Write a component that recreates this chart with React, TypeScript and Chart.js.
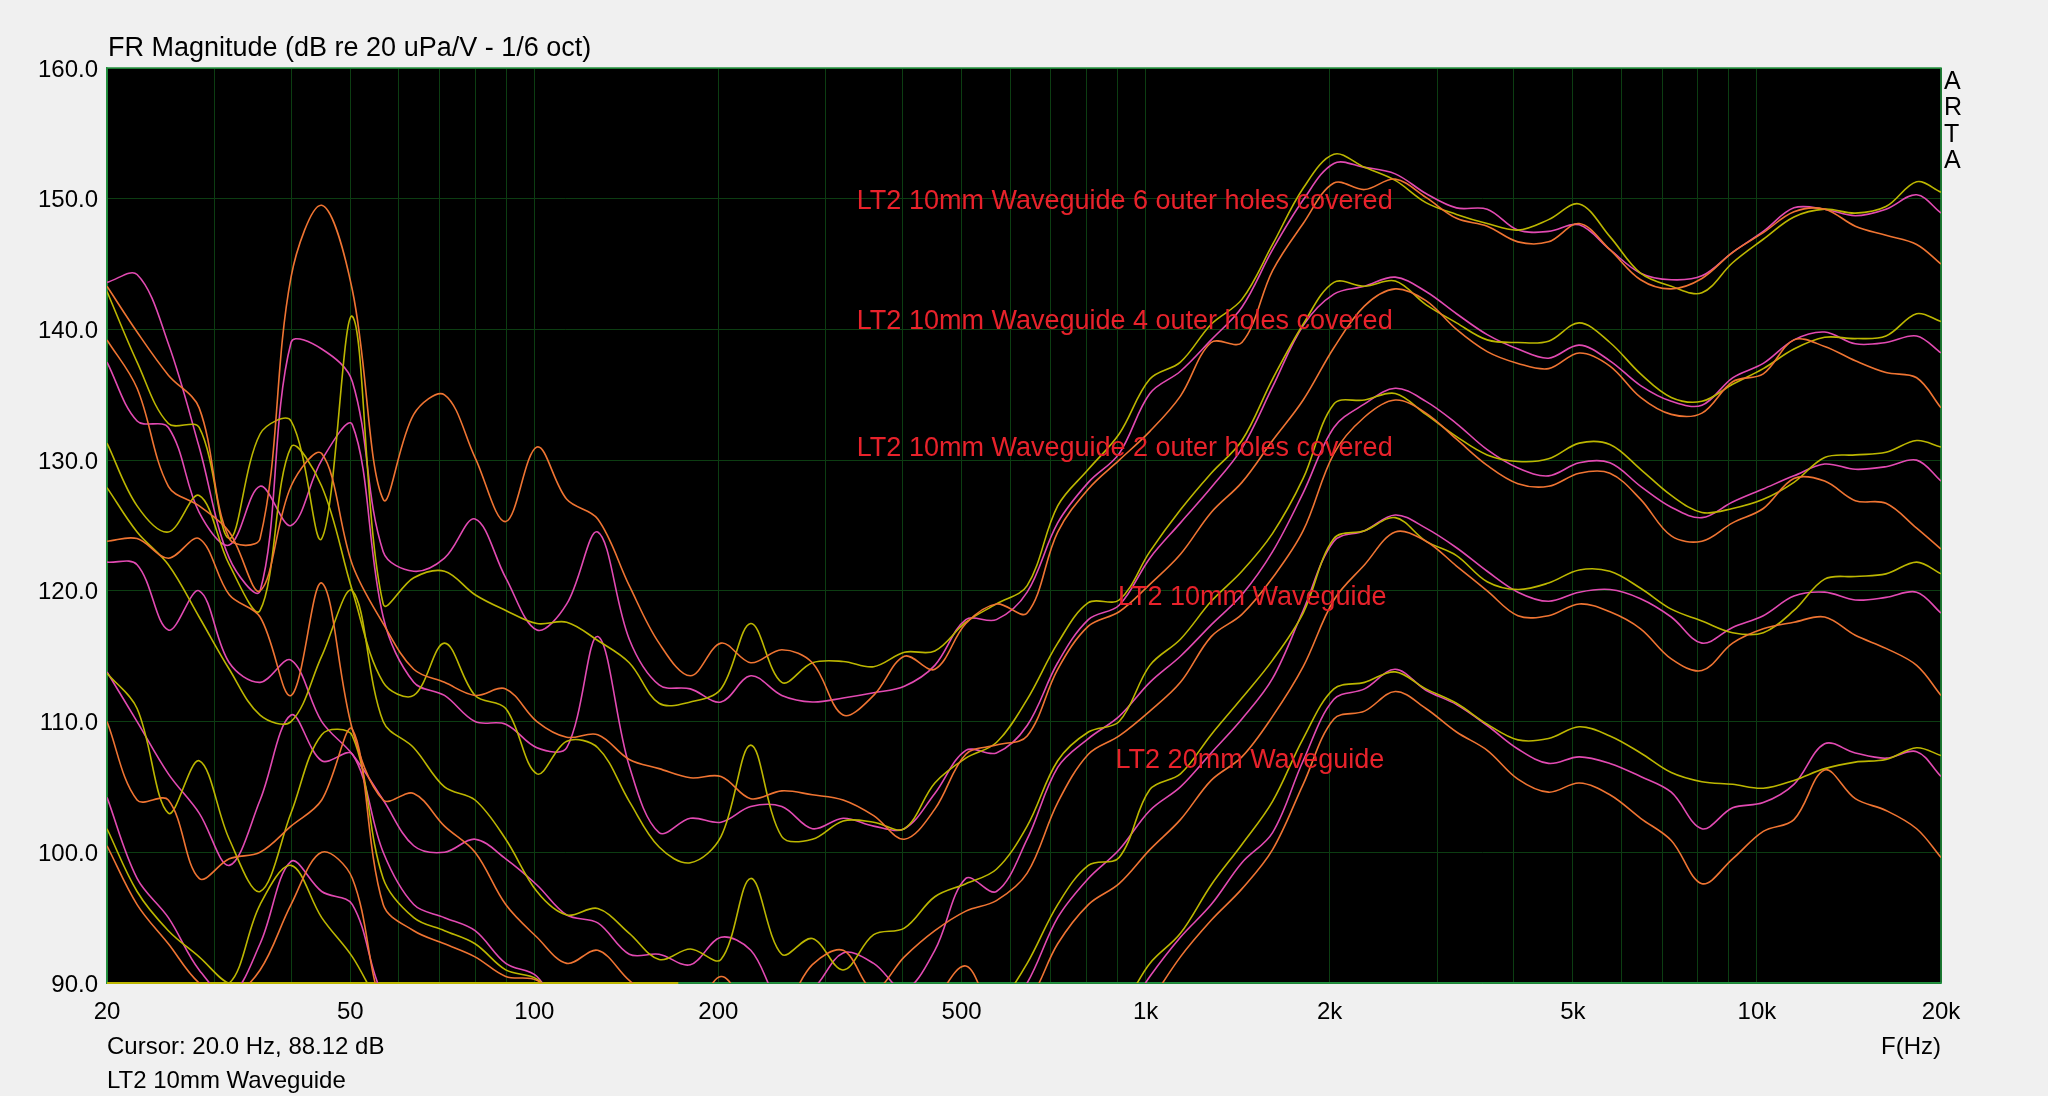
import React, { useEffect, useRef } from "react";
import { Chart, registerables } from "chart.js";

Chart.register(...registerables);

// Frequency points (Hz), roughly 1/6 octave
const freqs = [20, 22.4, 25.2, 28.3, 31.7, 35.6, 40, 44.9, 50.4, 56.6, 63.5, 71.3, 80, 89.8, 101, 113, 127, 143, 160, 180, 202, 226, 254, 285, 320, 359, 403, 452, 508, 570, 640, 718, 806, 905, 1016, 1140, 1280, 1437, 1613, 1810, 2032, 2281, 2560, 2874, 3225, 3620, 4064, 4561, 5120, 5747, 6451, 7241, 8127, 9123, 10240, 11494, 12902, 14482, 16256, 18247, 20000];

// "6 outer holes covered"
const g1Yellow = [142.9, 137.5, 132.8, 132.5, 124, 132, 133, 124, 141, 119, 121, 121.5, 119.7, 118.5, 117.5, 117.6, 116.2, 114.5, 111.4, 111.5, 112.5, 117.5, 113, 114.5, 114.6, 114.2, 115.3, 115.4, 117.6, 119, 120.4, 126.5, 129.3, 132, 136.2, 137.5, 140.4, 142.3, 146.5, 150.8, 153.4, 152.4, 151.4, 149.7, 148.8, 148.1, 147.6, 148.4, 149.6, 147.1, 144.3, 143.3, 142.8, 145.1, 146.9, 148.6, 149.2, 148.9, 149.4, 151.3, 150.5];
const g1Pink = [143.6, 144.2, 138.9, 131, 122.5, 120, 139, 138.5, 136, 123, 121.5, 122.5, 125.5, 121, 117, 119, 124.5, 116.3, 112.8, 112.5, 111.5, 113.5, 112, 111.5, 111.8, 112.2, 112.7, 114.3, 117.8, 117.8, 119.9, 125.2, 128.3, 130.5, 135.1, 136.8, 139.2, 141.7, 146.1, 149.9, 152.7, 152.4, 151.9, 150.4, 149.3, 149.2, 147.6, 147.5, 148, 146.1, 144.3, 143.8, 144.1, 145.9, 147.5, 149.3, 149.2, 148.7, 149.2, 150.3, 148.9];
const g1Orange = [143.3, 139.8, 136.5, 134, 124, 124, 144, 149.5, 143, 127, 133.5, 135, 130.2, 125.3, 131, 127, 125.5, 120.4, 116, 113.5, 116, 114.5, 115.5, 114.5, 110.5, 112, 115, 114, 117.5, 119, 118.3, 124.5, 127.8, 130, 132.2, 134.9, 139, 139, 144.5, 148.1, 151.2, 150.7, 151.5, 150.1, 148.5, 147.9, 146.7, 146.7, 148.1, 146.1, 143.8, 143.1, 143.9, 145.9, 147.4, 149, 149.2, 147.9, 147.2, 146.5, 145];

// "4 outer holes covered"
const g2Yellow = [131.3, 126.5, 124.5, 127.3, 122, 118.5, 131, 128, 120, 113, 112, 116, 112, 111, 106, 108.5, 108, 103.9, 100.4, 99.2, 101.2, 108.2, 101.2, 101, 102.4, 102.3, 101.8, 105.3, 107.2, 108.4, 111.7, 116, 119.1, 119.3, 123, 126.2, 129, 131.5, 136.2, 140.4, 143.6, 143.3, 143.7, 141.9, 140.5, 139.2, 139, 139.1, 140.5, 139, 136.6, 134.8, 134.5, 135.8, 137, 138.5, 139.4, 139.3, 139.5, 141.2, 140.6];
const g2Pink = [137.5, 133, 132.5, 126, 123.5, 128, 125, 130, 132.7, 118, 113, 112, 110, 109.8, 108, 108, 116.5, 106.6, 101.5, 102.6, 102.3, 103.5, 103.5, 101.8, 102.6, 102, 101.8, 104.5, 107.8, 107.6, 109.7, 114.5, 117.8, 118.9, 122.5, 125.2, 127.9, 130.9, 135.6, 140.3, 142.7, 143.3, 144, 142.9, 141.2, 139.6, 138.5, 137.8, 138.8, 137.6, 135.7, 134.5, 134.2, 136.3, 137.4, 139.2, 139.8, 138.9, 139, 139.5, 138.2];
const g2Orange = [139.2, 135.5, 128, 126.5, 124.5, 120, 128, 130.5, 122, 117.5, 114, 113, 112, 112.5, 110, 108.8, 109, 107.1, 106.4, 105.7, 105.8, 104.1, 104.7, 104.4, 104, 102.8, 101, 103.3, 107.5, 108.2, 108.9, 114, 117.3, 118.4, 120.5, 122.8, 126, 128.3, 131.5, 134.6, 138.6, 141.8, 143.1, 142.2, 140, 138.3, 137.4, 137, 138.2, 137.2, 134.8, 133.5, 133.6, 136, 136.6, 139.2, 138.7, 137.6, 136.7, 136.3, 134];

// "2 outer holes covered"
const g3Yellow = [127.9, 124.5, 122, 118, 114, 110.5, 110, 115, 120, 110, 108, 105, 104, 101, 97, 95.2, 95.7, 93.8, 91.8, 92.6, 91.8, 98, 92.2, 93.4, 91, 93.7, 94.2, 96.6, 97.6, 98.7, 102, 107, 109.2, 110, 114.3, 116.3, 119.2, 121.5, 124.4, 128.6, 134.3, 134.6, 135.1, 133.5, 131.8, 130.4, 129.9, 130.1, 131.3, 131.2, 129.3, 127.3, 126, 126.3, 127, 128.3, 130.2, 130.4, 130.6, 131.5, 131];
const g3Pink = [122.2, 122, 117, 120, 114.5, 113, 114.7, 110, 107.5, 104, 100.5, 100, 101, 99.5, 97.5, 95.2, 94.6, 92.2, 92.2, 91.4, 93.5, 92.5, 88.5, 89.5, 92.3, 91.5, 89.5, 92.5, 98, 97, 101, 106.5, 108.7, 110.4, 113, 115, 117.4, 119.7, 123, 127.5, 132.5, 134.3, 135.5, 134.5, 132.8, 130.8, 129.4, 128.8, 129.8, 129.8, 128, 126.4, 125.6, 126.8, 127.8, 128.8, 129.7, 129.3, 129.5, 130, 128.4];
const g3Orange = [123.8, 124, 122.5, 124, 119.7, 118, 112, 120.6, 109.4, 104, 104.5, 102, 100, 96, 93.5, 91.5, 92.5, 90.2, 88.5, 87.5, 90.5, 88, 88, 91.4, 92.5, 89.5, 92, 94, 95.5, 96.3, 98.4, 103.8, 107.5, 108.9, 110.8, 113, 116.5, 118.2, 121, 124.6, 130.5, 133.3, 134.6, 133.6, 131.6, 129.6, 128.2, 128, 129, 129, 127, 124.2, 123.8, 125.2, 126.3, 128.6, 128.4, 126.9, 126.7, 124.8, 123.2];

// "LT2 10mm Waveguide"
const g4Yellow = [113.7, 111, 103, 107, 101, 97, 103, 109, 108.9, 98, 95, 94, 93, 91, 90.3, 88, 87, 86, 85, 86, 85, 86, 84, 85, 84, 85, 86, 86, 86, 88, 91.5, 96, 99, 99.6, 104.8, 106, 109, 111.8, 114.7, 118.3, 124, 124.6, 125.6, 123.8, 122.7, 120.7, 120.1, 120.6, 121.6, 121.5, 120.2, 118.6, 117.7, 116.8, 116.8, 118.5, 120.9, 121.1, 121.3, 122.2, 121.3];
const g4Pink = [113.8, 110, 106, 103, 99, 104, 110.5, 107, 107.5, 100, 96, 95, 94, 91.5, 90.5, 87, 86, 85, 84, 85, 84, 85, 84, 84, 85, 84, 85, 85, 85, 87, 90, 95, 98, 100.2, 103.2, 105, 107.6, 110.2, 113.3, 118.5, 123.8, 124.6, 125.8, 124.8, 123.3, 121.5, 119.9, 119.2, 119.9, 120.1, 119.4, 118, 116, 117.2, 118.1, 119.6, 119.9, 119.3, 119.5, 119.9, 118.3];
const g4Orange = [110, 104, 104, 98, 99.5, 100, 102, 104, 109.4, 96, 94, 93, 92, 90.5, 90.2, 88, 87, 86, 85, 84, 86, 85, 84, 85, 84, 85, 85, 88.5, 91.3, 87.5, 88.5, 93, 96, 97.6, 100.2, 102.5, 105.5, 107.3, 110.4, 114.2, 119.3, 122, 124.5, 123.8, 121.9, 120, 118.1, 118.1, 119, 118.4, 117.1, 114.8, 113.9, 116, 117.1, 117.6, 118, 116.6, 115.6, 114.3, 112];

// "LT2 20mm Waveguide"
const g5Yellow = [101.8, 97, 94, 92, 90, 96, 99, 95, 92, 88, 86, 85, 84, 83, 82, 82, 81, 80, 80, 80, 80, 80, 80, 80, 80, 81, 82, 83, 84, 85, 86, 86, 87, 88, 91.5, 93.8, 97.5, 100.6, 103.9, 108.7, 112.5, 113, 113.8, 112.5, 111.4, 109.8, 108.6, 108.7, 109.6, 108.9, 107.6, 106.1, 105.4, 105.2, 104.9, 105.5, 106.4, 106.9, 107.1, 108, 107.4];
const g5Pink = [104.2, 98, 95, 91, 89, 93, 99.3, 97, 96, 89, 87, 85, 84, 83, 82, 81, 80, 80, 80, 79, 79, 79, 80, 80, 80, 81, 82, 82, 83, 84, 85, 85, 86, 87, 90.5, 93.5, 96, 99.2, 101.5, 107, 111.7, 112.5, 114, 112.4, 111.3, 109.7, 107.9, 106.8, 107.3, 106.8, 105.8, 104.6, 101.8, 103.4, 103.8, 105.2, 108.3, 107.6, 107.2, 107.7, 105.8];
const g5Orange = [100.5, 96, 93, 90, 89, 91, 96, 100, 98, 88, 86, 84, 83, 82, 81, 80, 80, 79, 79, 79, 79, 79, 79, 80, 80, 80, 81, 81, 82, 83, 83, 84, 84, 85, 88.5, 92, 94.8, 97.2, 100.2, 105.2, 110.2, 110.8, 112.3, 111, 109.2, 107.8, 105.6, 104.6, 105.3, 104.4, 102.6, 100.9, 97.6, 99.5, 101.6, 102.5, 106.3, 104.1, 103.2, 101.8, 99.6];

// clipped trace lying on the bottom edge
const floorFreqs = [20, 172];
const floorDb = [90, 90];

// axis ticks
const xGridFreqs = [20, 30, 40, 50, 60, 70, 80, 90, 100, 200, 300, 400, 500, 600, 700, 800, 900, 1000, 2000, 3000, 4000, 5000, 6000, 7000, 8000, 9000, 10000, 20000];
const xLabelFreqs = [20, 50, 100, 200, 500, 1000, 2000, 5000, 10000, 20000];
const xLabelTexts = ["20", "50", "100", "200", "500", "1k", "2k", "5k", "10k", "20k"];

// annotations
const noteTexts = [
  "LT2 10mm Waveguide 6 outer holes covered",
  "LT2 10mm Waveguide 4 outer holes covered",
  "LT2 10mm Waveguide 2 outer holes covered",
  "LT2 10mm Waveguide",
  "LT2 20mm Waveguide",
];
const noteFreqs = [337, 337, 337, 901, 893];
const noteDb = [149.8, 140.6, 130.85, 119.5, 107.05];

const YELLOW = "#bcb600";
const PINK = "#e24ab2";
const ORANGE = "#ef7432";
const GRID = "#0c3d12";
const FRAME = "#23913f";
const FONT = "'Liberation Sans', Arial, sans-serif";

const toPts = (vals: number[], fx: number[] = freqs) => vals.map((v, i) => ({ x: fx[i], y: v }));

export default function App() {
  const ref = useRef<HTMLCanvasElement | null>(null);

  useEffect(() => {
    const canvas = ref.current;
    if (!canvas) return;

    const mk = (vals: number[], color: string) => ({
      data: toPts(vals),
      borderColor: color,
      backgroundColor: color,
      borderWidth: 1.6,
      pointRadius: 0,
      tension: 0.35,
      fill: false,
    });

    const datasets: any[] = [
      mk(g1Orange, ORANGE), mk(g2Orange, ORANGE), mk(g3Orange, ORANGE), mk(g4Orange, ORANGE), mk(g5Orange, ORANGE),
      mk(g1Yellow, YELLOW), mk(g2Yellow, YELLOW), mk(g3Yellow, YELLOW), mk(g4Yellow, YELLOW), mk(g5Yellow, YELLOW),
      mk(g1Pink, PINK), mk(g2Pink, PINK), mk(g3Pink, PINK), mk(g4Pink, PINK), mk(g5Pink, PINK),
      { data: toPts(floorDb, floorFreqs), borderColor: YELLOW, borderWidth: 2, pointRadius: 0, tension: 0, clip: false },
    ];

    const bgPlugin = {
      id: "bg",
      beforeDraw(chart: any) {
        const { ctx, chartArea: a } = chart;
        ctx.save();
        ctx.fillStyle = "#f0f0f0";
        ctx.fillRect(0, 0, chart.width, chart.height);
        ctx.fillStyle = "#000";
        ctx.fillRect(a.left, a.top, a.right - a.left, a.bottom - a.top);
        ctx.restore();
      },
      beforeDatasetsDraw(chart: any) {
        const { ctx, chartArea: a } = chart;
        ctx.save();
        ctx.strokeStyle = FRAME;
        ctx.lineWidth = 1.5;
        ctx.strokeRect(a.left, a.top, a.right - a.left, a.bottom - a.top);
        ctx.restore();
      },
      afterDraw(chart: any) {
        const { ctx, chartArea: a, scales } = chart;
        ctx.save();
        ctx.fillStyle = "#000";
        ctx.textBaseline = "middle";
        ctx.textAlign = "left";
        ctx.font = `27px ${FONT}`;
        ctx.fillText("FR Magnitude (dB re 20 uPa/V - 1/6 oct)", a.left + 1, 49);
        ctx.font = `24px ${FONT}`;
        ctx.fillText("Cursor: 20.0 Hz, 88.12 dB", a.left, 1047);
        ctx.fillText("LT2 10mm Waveguide", a.left, 1081);
        ctx.textAlign = "right";
        ctx.fillText("F(Hz)", a.right, 1047);
        ctx.textAlign = "left";
        ctx.font = `25px ${FONT}`;
        ["A", "R", "T", "A"].forEach((ch, i) => ctx.fillText(ch, a.right + 3, 82 + i * 26.4));
        ctx.fillStyle = "#e8222b";
        ctx.font = `27px ${FONT}`;
        noteTexts.forEach((t, i) => {
          ctx.fillText(t, scales.x.getPixelForValue(noteFreqs[i]), scales.y.getPixelForValue(noteDb[i]));
        });
        ctx.restore();
      },
    };

    const chart = new Chart(canvas, {
      type: "line",
      data: { datasets },
      plugins: [bgPlugin],
      options: {
        responsive: false,
        animation: false,
        devicePixelRatio: 1,
        parsing: false as any,
        normalized: true,
        layout: { padding: { top: 68, right: 107, left: 0, bottom: 0 } },
        plugins: { legend: { display: false }, tooltip: { enabled: false }, title: { display: false } },
        scales: {
          x: {
            type: "logarithmic",
            min: 20,
            max: 20000,
            afterFit: (s: any) => { s.height = 113; },
            afterBuildTicks: (s: any) => { s.ticks = xGridFreqs.map((v) => ({ value: v })); },
            ticks: {
              autoSkip: false,
              maxRotation: 0,
              minRotation: 0,
              padding: 15,
              color: "#000",
              font: { family: FONT, size: 24 },
              callback: (v: any) => {
                const k = xLabelFreqs.indexOf(Number(v));
                return k >= 0 ? xLabelTexts[k] : "";
              },
            },
            grid: { color: GRID, lineWidth: 1, drawTicks: false },
            border: { color: FRAME, width: 1.5 },
          },
          y: {
            type: "linear",
            min: 90,
            max: 160,
            afterFit: (s: any) => { s.width = 107; },
            ticks: {
              stepSize: 10,
              padding: 9,
              labelOffset: 2,
              color: "#000",
              font: { family: FONT, size: 24 },
              callback: (v: any) => Number(v).toFixed(1),
            },
            grid: { color: GRID, lineWidth: 1, drawTicks: false },
            border: { color: FRAME, width: 1.5 },
          },
        },
      } as any,
    });

    return () => chart.destroy();
  }, []);

  return (
    <div style={{ position: "fixed", left: 0, top: 0, width: 2048, height: 1096, background: "#f0f0f0" }}>
      <canvas ref={ref} width={2048} height={1096} style={{ display: "block", width: 2048, height: 1096 }} />
    </div>
  );
}
